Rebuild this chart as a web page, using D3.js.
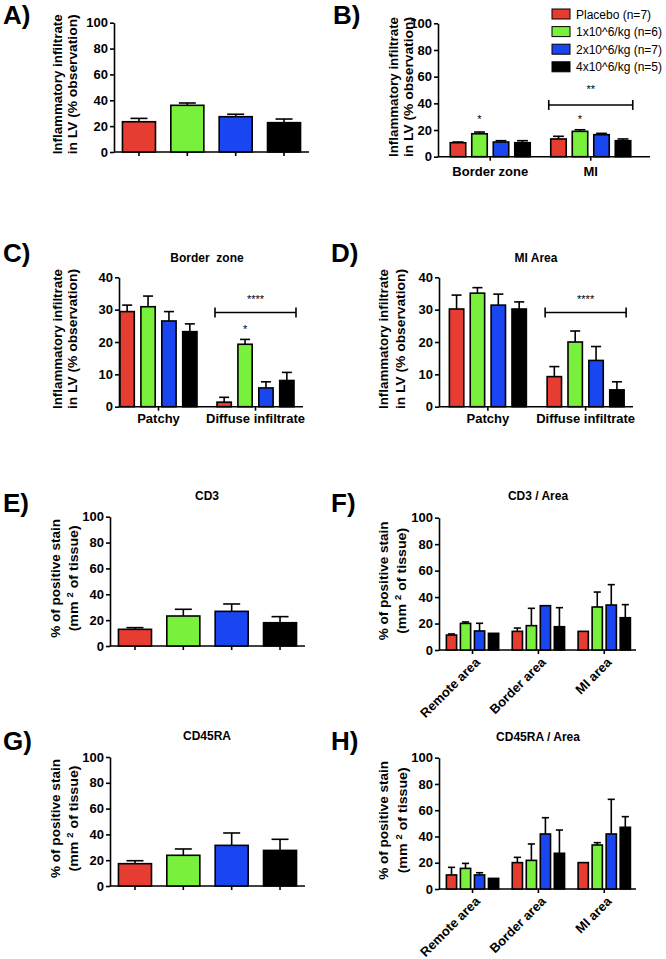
<!DOCTYPE html>
<html><head><meta charset="utf-8">
<script src="https://cdn.jsdelivr.net/npm/d3@7"></script>
<style>
body{margin:0;background:#fff}
svg text{font-family:"Liberation Sans",Arial,sans-serif;}
</style></head><body>
<svg id="c" width="666" height="959"></svg>
<script>
// ---------- data ----------
const series = ["Placebo (n=7)", "1x10^6/kg (n=6)", "2x10^6/kg (n=7)", "4x10^6/kg (n=5)"];
const seriesColors = ["#e63c32", "#78f03c", "#1946f0", "#000000"];
const ticks100 = [0, 20, 40, 60, 80, 100];
const ticks40 = [0, 10, 20, 30, 40];

// A
const aMeans = [23.4, 36.1, 27.3, 22.7];
const aErr = [2.6, 1.8, 1.9, 2.8];
// B
const bGroups = ["Border zone", "MI"];
const bMeans = [[10.5, 17.2, 11.0, 10.5], [13.3, 19.0, 16.5, 12.0]];
const bErr = [[0.5, 1.3, 1.0, 1.5], [2.0, 1.2, 1.0, 1.3]];
const bStars = [{g: "Border zone", s: 1, v: 30, t: "*"}, {g: "MI", s: 1, v: 30, t: "*"}, {g: "MI", s: null, v: 52, t: "**"}];
const bBrackets = [{g: "MI", v: 38.8}];
// C
const cGroups = ["Patchy", "Diffuse infiltrate"];
const cMeans = [[29.4, 30.9, 26.5, 23.2], [1.4, 19.3, 5.8, 8.1]];
const cErr = [[2.0, 3.3, 2.9, 2.4], [1.5, 1.5, 1.9, 2.5]];
const cStars = [{g: "Diffuse infiltrate", s: 1, v: 24.7, t: "*"}, {g: "Diffuse infiltrate", s: null, v: 33.8, t: "****"}];
const cBrackets = [{g: "Diffuse infiltrate", v: 29.1}];
// D
const dGroups = ["Patchy", "Diffuse infiltrate"];
const dMeans = [[30.2, 35.1, 31.4, 30.2], [9.3, 20.0, 14.3, 5.2]];
const dErr = [[4.3, 1.7, 3.4, 2.2], [3.1, 3.4, 4.3, 2.5]];
const dStars = [{g: "Diffuse infiltrate", s: null, v: 33.8, t: "****"}];
const dBrackets = [{g: "Diffuse infiltrate", v: 29.1}];
// E
const eMeans = [12.9, 23.2, 26.8, 18.0];
const eErr = [1.3, 5.2, 5.7, 4.7];
// F
const fGroups = ["Remote area", "Border area", "MI area"];
const fMeans = [[11.3, 20.1, 14.4, 12.6], [14.1, 18.4, 33.5, 17.6], [14.1, 32.5, 34.0, 24.4]];
const fErr = [[0.8, 1.1, 5.8, 0], [2.5, 13.1, 0, 14.4], [0, 11.3, 15.4, 9.9]];
// G
const gMeans = [17.3, 23.8, 31.5, 27.6];
const gErr = [2.3, 4.9, 9.6, 8.6];
// H
const hGroups = ["Remote area", "Border area", "MI area"];
const hMeans = [[10.7, 15.7, 10.7, 8.1], [20.1, 21.8, 41.9, 27.2], [20.1, 33.5, 41.9, 47.0]];
const hErr = [[5.8, 3.8, 1.7, 0], [4.0, 12.5, 12.4, 17.7], [0, 1.8, 26.4, 8.1]];

const ylabInf = ["Inflammatory infiltrate", "in LV (% observation)"];
const ylabStain = ["% of positive stain", "(mm|2|of tissue)"];

// ---------- drawing ----------
const FONT = '"Liberation Sans", Arial, sans-serif';
const svg = d3.select("#c");
const color = d3.scaleOrdinal().domain(series).range(seriesColors);

function styleAxis(s) {
  s.attr("font-family", FONT);
  s.select(".domain").attr("stroke", "#000").attr("stroke-width", 1.6);
  s.selectAll(".tick line").attr("stroke", "#000").attr("stroke-width", 1.6);
  s.selectAll(".tick text").attr("fill", "#000").attr("font-weight", "bold").attr("font-size", 13);
}

function panel(o) {
  const g = svg.append("g");
  const y = d3.scaleLinear().domain([0, o.ymax]).range([o.yBot, o.yTop]);

  // panel letter
  g.append("text").attr("x", o.lx).attr("y", o.ly).attr("font-size", 26)
    .attr("font-weight", "bold").text(o.letter);

  // title
  if (o.title) g.append("text").attr("x", o.tx).attr("y", o.ty).attr("text-anchor", "middle")
    .attr("font-size", 12).attr("font-weight", "bold").style("white-space", "pre").text(o.title);

  // y label
  const mid = (o.yTop + o.yBot) / 2 - 3;
  o.ylab.forEach((t, i) => {
    const tx = g.append("text").attr("transform", `translate(${o.ylx[i]},${mid}) rotate(-90)`)
      .attr("dy", "0.36em").attr("text-anchor", "middle").attr("font-size", 13.5).attr("font-weight", "bold")
      .attr("textLength", o.ylen[i]).attr("lengthAdjust", "spacingAndGlyphs");
    const parts = t.split("|");
    if (parts.length === 3) {
      tx.append("tspan").text(parts[0] + " ");
      tx.append("tspan").attr("font-size", 9).attr("dy", -5).text(parts[1]);
      tx.append("tspan").attr("dy", 5).text(" " + parts[2]);
    } else tx.text(t);
  });

  // y axis
  g.append("g").attr("transform", `translate(${o.ax0},0)`)
    .call(d3.axisLeft(y).tickValues(o.ticks).tickSize(4).tickPadding(2).tickSizeOuter(0))
    .call(styleAxis);

  // bar rows
  let rows = [], groupScale = null, x1 = null;
  if (o.groups) {
    groupScale = d3.scaleBand().domain(o.groups).range(o.x0range).padding(0);
    x1 = d3.scaleBand().domain(series).range([-o.span / 2, o.span / 2]).paddingInner(o.pi).paddingOuter(0);
    o.groups.forEach((gr, gi) => series.forEach((s, si) => rows.push({
      s, v: o.means[gi][si], e: o.err[gi][si],
      x: groupScale(gr) + groupScale.bandwidth() / 2 + x1(s), w: x1.bandwidth()
    })));
  } else {
    const xs = d3.scaleBand().domain(series).range([o.ax0, o.ax1]).paddingInner(0.317).paddingOuter(0.175);
    series.forEach((s, si) => rows.push({s, v: o.means[si], e: o.err[si], x: xs(s), w: xs.bandwidth()}));
    groupScale = xs;
  }

  // x axis
  const xa = g.append("g").attr("transform", `translate(0,${o.yBot})`)
    .call(d3.axisBottom(groupScale).tickSize(4).tickPadding(o.tickPad || 3).tickSizeOuter(0)
      .tickFormat(o.groups ? (d => d) : () => ""))
    .call(styleAxis);
  xa.select(".domain").remove();
  g.append("line").attr("x1", o.ax0).attr("x2", o.ax1).attr("y1", o.yBot).attr("y2", o.yBot)
    .attr("stroke", "#000").attr("stroke-width", 1.6);
  if (o.rotate) {
    xa.selectAll(".tick text").attr("x", 0).attr("y", 0).attr("dy", "0.35em")
      .attr("text-anchor", "end").attr("transform", "translate(5,10) rotate(-45)");
  }

  // error bars
  const eg = g.append("g").attr("stroke", "#000").attr("stroke-width", 1.6);
  rows.filter(r => r.e > 0).forEach(r => {
    const cx = r.x + r.w / 2, cw = Math.min(r.w * 0.7, 17);
    eg.append("line").attr("x1", cx).attr("x2", cx).attr("y1", y(r.v)).attr("y2", y(r.v + r.e));
    eg.append("line").attr("x1", cx - cw / 2).attr("x2", cx + cw / 2).attr("y1", y(r.v + r.e)).attr("y2", y(r.v + r.e));
  });

  // bars
  g.append("g").selectAll("rect").data(rows).join("rect")
    .attr("x", r => r.x).attr("width", r => r.w)
    .attr("y", r => y(r.v)).attr("height", r => o.yBot - y(r.v))
    .attr("fill", r => color(r.s)).attr("stroke", "#000").attr("stroke-width", 1.6);

  // brackets
  (o.brackets || []).forEach(b => {
    const c = groupScale(b.g) + groupScale.bandwidth() / 2;
    const xL = c + x1(series[0]) - 2, xR = c + x1(series[3]) + x1.bandwidth() + 2, yy = y(b.v);
    const bg = g.append("g").attr("stroke", "#000").attr("stroke-width", 1.6);
    bg.append("line").attr("x1", xL).attr("x2", xR).attr("y1", yy).attr("y2", yy);
    bg.append("line").attr("x1", xL).attr("x2", xL).attr("y1", yy - 5).attr("y2", yy + 5);
    bg.append("line").attr("x1", xR).attr("x2", xR).attr("y1", yy - 5).attr("y2", yy + 5);
  });
  // stars
  (o.stars || []).forEach(st => {
    const c = groupScale(st.g) + groupScale.bandwidth() / 2;
    const sx = st.s === null ? c : c + x1(series[st.s]) + x1.bandwidth() / 2;
    g.append("text").attr("x", sx).attr("y", y(st.v) + 6).attr("text-anchor", "middle")
      .attr("font-size", 11).text(st.t);
  });
}

const lenInf = [140, 140], lenStain = [119, 106];

panel({letter: "A)", lx: 3, ly: 24, ax0: 114, ax1: 309, yTop: 22.7, yBot: 152, ymax: 100, ticks: ticks100,
  ylab: ylabInf, ylen: lenInf, ylx: [57, 72], means: aMeans, err: aErr});
panel({letter: "B)", lx: 333, ly: 24, ax0: 438, ax1: 650, yTop: 23.3, yBot: 156.7, ymax: 100, ticks: ticks100,
  ylab: ylabInf, ylen: lenInf, ylx: [393, 408], groups: bGroups, means: bMeans, err: bErr,
  x0range: [440, 641], span: 80, pi: 0.28, tickPad: 6, stars: bStars, brackets: bBrackets});
panel({letter: "C)", lx: 3, ly: 262, ax0: 119, ax1: 303, yTop: 277.3, yBot: 406.7, ymax: 40, ticks: ticks40,
  title: "Border  zone", tx: 207, ty: 262,
  ylab: ylabInf, ylen: lenInf, ylx: [57, 72], groups: cGroups, means: cMeans, err: cErr,
  x0range: [110, 304], span: 77, pi: 0.316, tickPad: 3, stars: cStars, brackets: cBrackets});
panel({letter: "D)", lx: 331, ly: 262, ax0: 439, ax1: 633, yTop: 277.3, yBot: 406.7, ymax: 40, ticks: ticks40,
  title: "MI Area", tx: 536, ty: 262,
  ylab: ylabInf, ylen: lenInf, ylx: [383, 400], groups: dGroups, means: dMeans, err: dErr,
  x0range: [439, 634.5], span: 77, pi: 0.31, tickPad: 3, stars: dStars, brackets: dBrackets});
panel({letter: "E)", lx: 3, ly: 512, ax0: 110, ax1: 305, yTop: 516.7, yBot: 646, ymax: 100, ticks: ticks100,
  title: "CD3", tx: 207, ty: 500,
  ylab: ylabStain, ylen: lenStain, ylx: [55, 73], means: eMeans, err: eErr});
panel({letter: "F)", lx: 331, ly: 512, ax0: 439, ax1: 636, yTop: 517.7, yBot: 650, ymax: 100, ticks: ticks100,
  title: "CD3 / Area", tx: 538, ty: 500,
  ylab: ylabStain, ylen: lenStain, ylx: [383, 401], groups: fGroups, means: fMeans, err: fErr,
  x0range: [439.6, 637.2], span: 52.3, pi: 0.27, rotate: true});
panel({letter: "G)", lx: 3, ly: 750, ax0: 110, ax1: 305, yTop: 757, yBot: 886, ymax: 100, ticks: ticks100,
  title: "CD45RA", tx: 207, ty: 740,
  ylab: ylabStain, ylen: lenStain, ylx: [55, 73], means: gMeans, err: gErr});
panel({letter: "H)", lx: 331, ly: 750, ax0: 439, ax1: 636, yTop: 757.7, yBot: 889, ymax: 100, ticks: ticks100,
  title: "CD45RA / Area", tx: 538, ty: 741,
  ylab: ylabStain, ylen: lenStain, ylx: [383, 402], groups: hGroups, means: hMeans, err: hErr,
  x0range: [439.6, 637.2], span: 52.3, pi: 0.27, rotate: true});

// legend (panel B)
const leg = svg.append("g").selectAll("g").data(series).join("g")
  .attr("transform", (d, i) => `translate(552,${14 + i * 17.6})`);
leg.append("rect").attr("x", 0).attr("y", -5).attr("width", 18).attr("height", 10)
  .attr("fill", d => color(d)).attr("stroke", "#000").attr("stroke-width", 1);
leg.append("text").attr("x", 24).attr("y", 4.5).attr("font-size", 12).text(d => d);
</script>
</body></html>
